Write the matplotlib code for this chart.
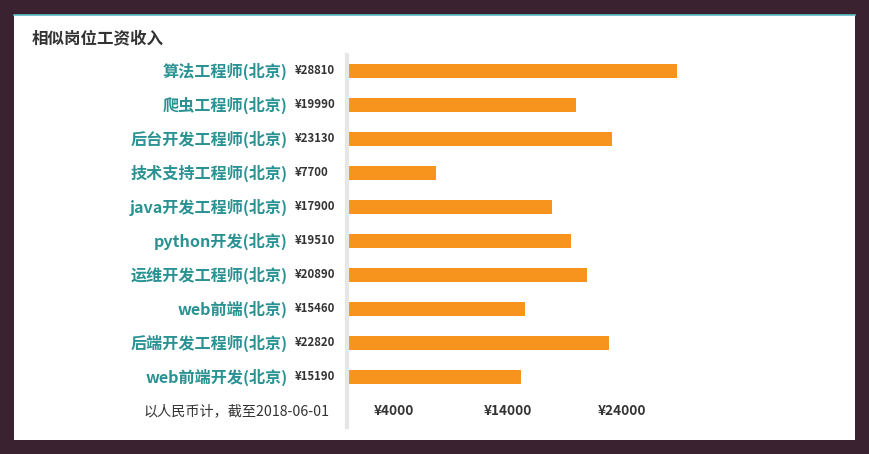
import matplotlib.pyplot as plt
from matplotlib.patches import Rectangle
from matplotlib.lines import Line2D
from matplotlib.transforms import blended_transform_factory

plt.rcParams['font.family'] = ['Noto Sans CJK SC', 'DejaVu Sans']

# data
jobs = ["算法工程师(北京)", "爬虫工程师(北京)", "后台开发工程师(北京)", "技术支持工程师(北京)",
        "java开发工程师(北京)", "python开发(北京)", "运维开发工程师(北京)", "web前端(北京)",
        "后端开发工程师(北京)", "web前端开发(北京)"]
salary = [28810, 19990, 23130, 7700, 17900, 19510, 20890, 15460, 22820, 15190]
ticks = [4000, 14000, 24000]
tick_labels = ["¥4000", "¥14000", "¥24000"]

W, H = 869, 454
fig = plt.figure(figsize=(W / 100, H / 100), dpi=100)
fig.patch.set_facecolor("#3a2231")

def px(x, y):
    return x / W, 1 - y / H

# white card with thin teal top edge
fig.add_artist(Rectangle(px(14, 440), (855 - 14) / W, (440 - 15) / H,
                         transform=fig.transFigure, facecolor="white", edgecolor="none", zorder=0))
fig.add_artist(Line2D([14 / W, 855 / W], [1 - 15 / H, 1 - 15 / H], transform=fig.transFigure,
                      color="#5bbec6", lw=1.2, zorder=1))

fig.text(32 / W, 1 - 38 / H, "相似岗位工资收入", fontsize=11.9, fontweight="bold",
         color="#333333", ha="left", va="center")

# axes: x=0 at px 348, 11.42 px per 1000
x0, y_top, y_bot = 348, 54, 394
xmax = 40000
width_px = xmax / 1000 * 11.42
ax = fig.add_axes([x0 / W, 1 - y_bot / H, width_px / W, (y_bot - y_top) / H])
ax.set_xlim(0, xmax)
ax.set_ylim(len(jobs) - 0.5, -0.5)
ax.axis("off")

ypos = list(range(len(jobs)))
ax.barh(ypos, salary, height=0.41, color="#f7941d", zorder=2)

tr = blended_transform_factory(fig.transFigure, ax.transData)
for y, name, val in zip(ypos, jobs, salary):
    ax.text(288 / W, y, name, transform=tr, ha="right", va="center",
            fontsize=11.6, fontweight="bold", color="#2a9292")
    ax.text(295 / W, y, f"¥{val}", transform=tr, ha="left", va="center",
            fontsize=8.2, fontweight="bold", color="#333333")

# axis line
fig.add_artist(Line2D([347 / W, 347 / W], [1 - 55 / H, 1 - 427 / H], transform=fig.transFigure,
                      color="#e6e6e6", lw=3, zorder=1))

trx = blended_transform_factory(ax.transData, fig.transFigure)
for t, lab in zip(ticks, tick_labels):
    ax.text(t, 1 - 411 / H, lab, transform=trx, ha="center", va="center",
            fontsize=9.8, fontweight="bold", color="#333333", clip_on=False)

fig.text(330 / W, 1 - 411 / H, "以人民币计，截至2018-06-01", fontsize=10.2,
         color="#333333", ha="right", va="center")

fig.savefig("out.png", dpi=100, facecolor=fig.get_facecolor())
